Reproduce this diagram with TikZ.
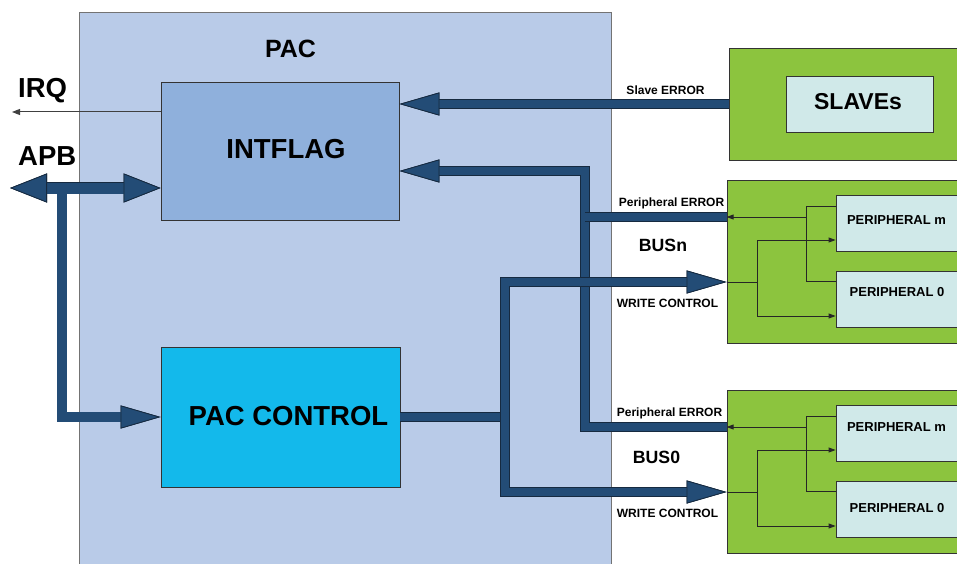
\documentclass[tikz,border=0pt]{standalone}
\usepackage{fontspec}
\setmainfont{Liberation Sans}
\usetikzlibrary{arrows.meta}
\definecolor{pacbg}{RGB}{185,203,232}
\definecolor{flagbg}{RGB}{143,176,220}
\definecolor{ctlbg}{RGB}{19,185,235}
\definecolor{grpbg}{RGB}{140,196,62}
\definecolor{devbg}{RGB}{208,233,233}
\definecolor{busfill}{RGB}{35,76,118}
\definecolor{busedge}{RGB}{22,42,64}
\newcommand{\szbig}{\fontsize{27.5}{30}\selectfont}
\newcommand{\szpac}{\fontsize{25}{28}\selectfont}
\newcommand{\szslv}{\fontsize{23}{26}\selectfont}
\newcommand{\szbus}{\fontsize{17.7}{20}\selectfont}
\newcommand{\szdev}{\fontsize{13}{15}\selectfont}
\newcommand{\szsig}{\fontsize{12}{14}\selectfont}
\begin{document}
\begin{tikzpicture}[x=1pt,y=-1pt,font=\bfseries,
	box/.style={draw=black!80, line width=0.8pt, inner sep=0pt},
	bus/.style={line width=8pt, draw=busfill, line join=miter, preaction={draw=busedge, line width=9.4pt}},
	apbbus/.style={line width=11pt, draw=busfill, line join=miter, preaction={draw=busedge, line width=12.4pt}},
	wire/.style={draw=black!85, line width=0.9pt},
	bt/.tip={Triangle[length=40pt,width=23pt,fill=busfill,color=busedge,line width=0.8pt]},
	ba/.tip={Triangle[length=37pt,width=29pt,fill=busfill,color=busedge,line width=0.8pt]},
	wt/.tip={Triangle[length=7pt,width=5pt]},
	sig/.style={anchor=base, font=\bfseries\szsig}]
	\useasboundingbox (0,0) rectangle (957,564);
	% PAC side
	\node[box, draw=black!55, fill=pacbg, minimum width=532pt, minimum height=560pt, anchor=north west] (pac) at (79,12) {};
	\node[box, fill=flagbg, minimum width=238pt, minimum height=138pt] (intflag) at (280,151) {};
	\node[box, fill=ctlbg, minimum width=239pt, minimum height=140pt] (pacctl) at (280.5,417) {};
	\node[anchor=base, font=\bfseries\szpac] (paclbl) at (290.5,58) {PAC};
	\node[anchor=base, font=\bfseries\szbig] (flaglbl) at (286,159) {INTFLAG};
	\node[anchor=base, font=\bfseries\szbig] (ctllbl) at (288.5,425) {PAC CONTROL};
	\node[anchor=base west, inner sep=0pt, font=\bfseries\szbig] (irqlbl) at (18,98) {IRQ};
	\node[anchor=base west, inner sep=0pt, font=\bfseries\szbig] (apblbl) at (18,166) {APB};
	% slaves
	\node[box, fill=grpbg, minimum width=232pt, minimum height=112pt] (slaves) at (845,104) {};
	\node[box, fill=devbg, minimum width=147pt, minimum height=56pt] (slvin) at (859.5,104) {};
	\node[anchor=base, font=\bfseries\szslv] (slvlbl) at (858,110) {SLAVEs};
	% peripheral groups
	\foreach \g/\dy/\ma/\mb in {n/0/224/296, 0/210/431/512}{
		\node[box, fill=grpbg, minimum width=234pt, minimum height=163pt] (grp\g) at (844,261.5+\dy) {};
		\node[box, fill=devbg, minimum width=126pt, minimum height=56pt] (pm\g) at (899,223+\dy) {};
		\node[box, fill=devbg, minimum width=126pt, minimum height=56pt] (pz\g) at (899,299+\dy) {};
		\node[anchor=base, font=\bfseries\szdev] at (896.5,\ma) {PERIPHERAL m};
		\node[anchor=base, font=\bfseries\szdev] at (897,\mb) {PERIPHERAL 0};
		\coordinate (er\g) at (grp\g.west |- 0,217+\dy);
		\coordinate (wr\g) at (grp\g.west |- 0,282+\dy);
		\draw[wire] (pm\g.west |- 0,206+\dy) -| (806,281+\dy) -- (pz\g.west |- 0,281+\dy);
		\draw[wire,-wt] (806,217+\dy) -- (er\g);
		\draw[wire,-wt] (wr\g) -- (757,282+\dy) |- (pm\g.west |- 0,240+\dy);
		\draw[wire,-wt] (757,282+\dy) |- (pz\g.west |- 0,316+\dy);
	}
	% IRQ out
	\coordinate (irq) at (12,112);
	\draw[draw=black!75, line width=1pt, -{Triangle[length=8pt,width=6pt]}] (intflag.west |- irq) -- (irq);
	% APB
	\coordinate (apbl) at (10,188);
	\coordinate (apbv) at (62,188);
	\draw[bus, line width=10pt, -bt] (apbv) |- (pacctl.west);
	\draw[apbbus, ba-ba] (apbl) -- (intflag.west |- apbl);
	% errors back to INTFLAG
	\draw[bus,-bt] (slaves.west) -- (intflag.east |- slaves.west);
	\coordinate (ebus) at (585,171);
	\draw[bus,-bt] (er0) -| (ebus) -- (intflag.east |- ebus);
	\draw[bus] (ern) -- (ern -| ebus);
	% write control
	\coordinate (wbus) at (505,417);
	\draw[bus] (pacctl.east) -- (wbus);
	\draw[bus,-bt] (wbus) |- (wrn);
	\draw[bus,-bt] (wbus) |- (wr0);
	% signal names
	\node[sig] (slverr) at (665.5,95) {Slave ERROR};
	\node[sig] (errn) at (671.5,206) {Peripheral ERROR};
	\node[anchor=base, font=\bfseries\szbus] (busn) at (663,251) {BUSn};
	\node[sig] (wcn) at (667.5,307) {WRITE CONTROL};
	\node[sig] (err0) at (669.5,416) {Peripheral ERROR};
	\node[anchor=base, font=\bfseries\szbus] (bus0) at (656.5,463) {BUS0};
	\node[sig] (wc0) at (667.5,517) {WRITE CONTROL};
\end{tikzpicture}
\end{document}
